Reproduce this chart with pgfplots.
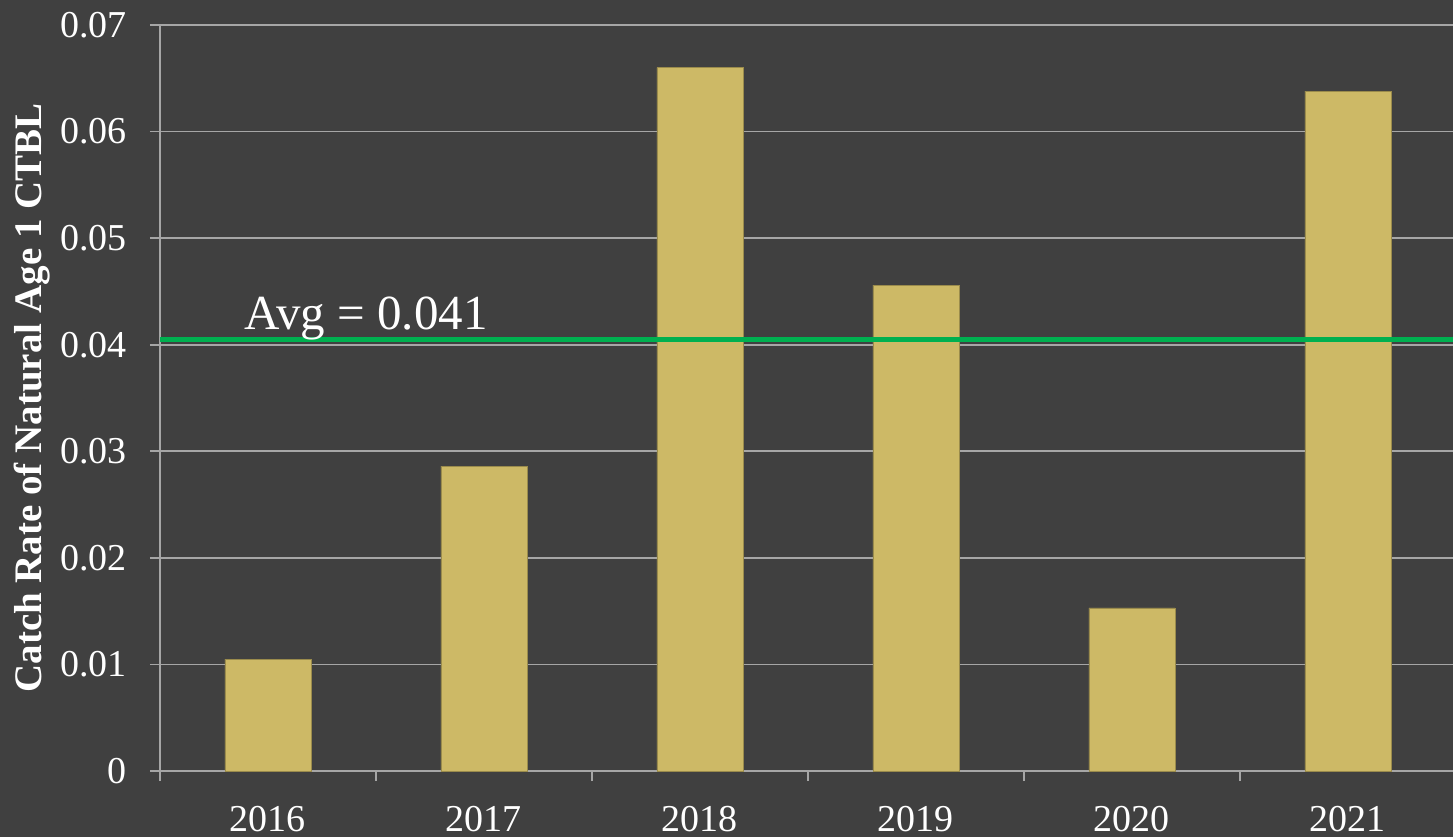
\documentclass[border=0pt]{standalone}
\usepackage{pgfplots}
\pgfplotsset{compat=1.18}
\usepackage{fontspec}
\setmainfont{Liberation Serif}
\definecolor{bg}{HTML}{404040}
\definecolor{barc}{HTML}{CDB966}
\definecolor{gridc}{HTML}{A6A6A6}
\definecolor{avgc}{HTML}{00B050}
\begin{document}
\begin{tikzpicture}
\fill[bg] (-80pt,-33pt) rectangle (646.5pt,385.5pt);
\useasboundingbox (-80pt,-33pt) rectangle (646.5pt,385.5pt);
\begin{axis}[
  at={(0,0)}, anchor=south west,
  scale only axis, width=648pt, height=373pt,
  xmin=-0.5, xmax=5.5, ymin=0, ymax=0.07,
  axis x line*=bottom, axis y line*=left,
  axis line style={draw=gridc, line width=0.8pt, -},
  tick align=outside,
  major tick length=5pt,
  tick style={draw=gridc, line width=0.8pt},
  ytick={0,0.01,0.02,0.03,0.04,0.05,0.06,0.07},
  scaled y ticks=false,
  ymajorgrids, major grid style={draw=gridc, line width=0.8pt},
  xtick={-0.5,0.5,1.5,2.5,3.5,4.5,5.5},
  xticklabels={2016,2017,2018,2019,2020,2021},
  x tick label as interval,
  /pgf/number format/fixed, /pgf/number format/precision=2,
  /pgf/number format/assume math mode=true,
  ticklabel style={font=\fontsize{19}{23}\selectfont, text=white},
  yticklabel style={xshift=-8pt},
  xticklabel style={yshift=-9pt},
  ylabel={Catch Rate of Natural Age 1 CTBL},
  every axis y label/.style={at={(axis description cs:-0.0988,0.5)}, anchor=center, rotate=90,
    font=\bfseries\fontsize{19.5}{23}\selectfont, text=white},
]
\addplot[ybar, bar width=43pt, fill=barc, draw=barc!75!black, line width=0.4pt]
  coordinates {(0,0.0105) (1,0.0286) (2,0.0660) (3,0.0456) (4,0.0153) (5,0.0638)};
\addplot[sharp plot, avgc, line width=2.5pt, forget plot]
  coordinates {(-0.5,0.0405) (5.5,0.0405)};
\node[anchor=base west, inner sep=0, font=\fontsize{24.5}{29}\selectfont, text=white]
  at (axis cs:-0.11,0.0414) {Avg = 0.041};
\end{axis}
\end{tikzpicture}
\end{document}
